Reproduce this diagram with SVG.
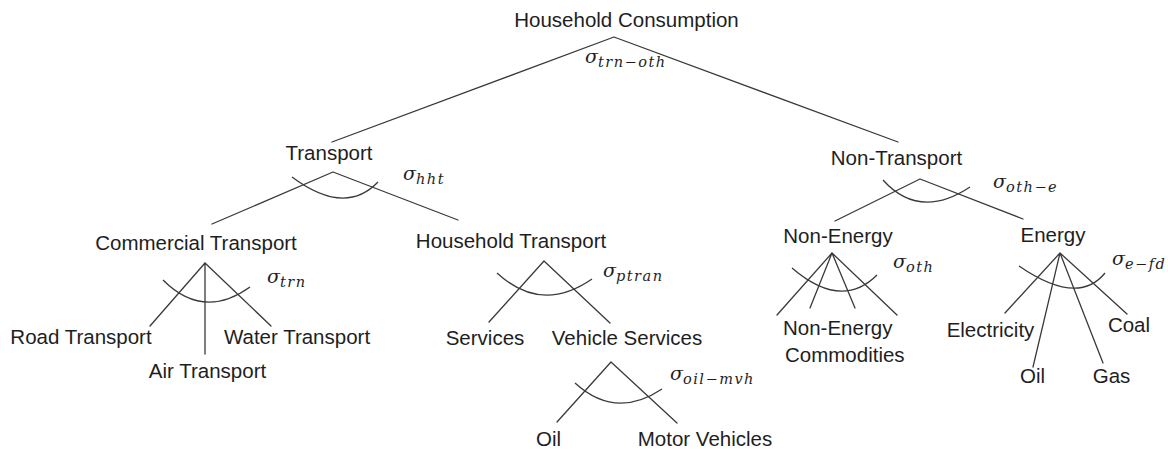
<svg xmlns="http://www.w3.org/2000/svg" width="1168" height="449" viewBox="0 0 1168 449">
  <style>
    .lbl { font-family: "Liberation Sans", Arial, sans-serif; font-size: 20.5px; fill: #1e1e1e; text-anchor: middle; }
    .lbl.start { text-anchor: start; }
    .sig { font-family: "DejaVu Serif", "Liberation Serif", serif; font-style: italic; font-size: 19px; fill: #1e1e1e; }
    .sub { font-size: 14.5px; letter-spacing: 1.5px; }
    .edge { stroke: #3a3a3a; stroke-width: 1.3; fill: none; stroke-linecap: round; }
    .arc { stroke: #3a3a3a; stroke-width: 1.3; fill: none; }
  </style>
  <rect width="1168" height="449" fill="#ffffff"/>

  <!-- branches and substitution arcs -->
  <g id="connectors">
    <!-- Household Consumption -->
    <path class="edge" d="M614 37 L332 142 M614 37 L898 142"/>
    <!-- Transport -->
    <path class="edge" d="M333 172 L212 224 M333 172 L458 220"/>
    <path class="arc" d="M292 177 Q345 216.5 378 182"/>
    <!-- Commercial Transport -->
    <path class="edge" d="M205 263 L150 326 M205 263 L205 354 M205 263 L271 326"/>
    <path class="arc" d="M163 280 Q203.5 320.5 250 287"/>
    <!-- Household Transport -->
    <path class="edge" d="M544 261 L489 322 M544 261 L610 323"/>
    <path class="arc" d="M497 273 Q541.5 314 592 279"/>
    <!-- Vehicle Services -->
    <path class="edge" d="M611 362 L557 422 M611 362 L677 423"/>
    <path class="arc" d="M575 383 Q615.5 420 662 389"/>
    <!-- Non-Transport -->
    <path class="edge" d="M920 179 L835 221 M920 179 L1023 219"/>
    <path class="arc" d="M883 180 Q919.5 220.5 970 187"/>
    <!-- Non-Energy -->
    <path class="edge" d="M832 253 L777 315 M832 253 L810 308 M832 253 L855 308 M832 253 L897 315"/>
    <path class="arc" d="M792 268 Q841.5 310.5 877 275"/>
    <!-- Energy -->
    <path class="edge" d="M1060 253 L1005 313 M1060 253 L1033 367 M1060 253 L1103 363 M1060 253 L1127 314"/>
    <path class="arc" d="M1019 266 Q1078 306.5 1105 273"/>
  </g>

  <!-- nodes -->
  <g id="household-consumption"><text class="lbl" x="626.5" y="27">Household Consumption</text></g>
  <g id="transport"><text class="lbl" x="329" y="160">Transport</text></g>
  <g id="non-transport"><text class="lbl" x="896.5" y="165">Non-Transport</text></g>
  <g id="commercial-transport"><text class="lbl" x="196" y="250">Commercial Transport</text></g>
  <g id="household-transport"><text class="lbl" x="511" y="248">Household Transport</text></g>
  <g id="road-transport"><text class="lbl" x="81" y="344">Road Transport</text></g>
  <g id="water-transport"><text class="lbl" x="297" y="344">Water Transport</text></g>
  <g id="air-transport"><text class="lbl" x="207.5" y="378">Air Transport</text></g>
  <g id="services"><text class="lbl" x="485" y="345">Services</text></g>
  <g id="vehicle-services"><text class="lbl" x="627" y="345">Vehicle Services</text></g>
  <g id="oil-vehicle"><text class="lbl" x="548.5" y="446">Oil</text></g>
  <g id="motor-vehicles"><text class="lbl" x="705" y="446">Motor Vehicles</text></g>
  <g id="non-energy"><text class="lbl" x="838" y="243">Non-Energy</text></g>
  <g id="energy"><text class="lbl" x="1053" y="242">Energy</text></g>
  <g id="non-energy-commodities">
    <text class="lbl start" x="783" y="335">Non-Energy</text>
    <text class="lbl start" x="785" y="362">Commodities</text>
  </g>
  <g id="electricity"><text class="lbl" x="990.5" y="337">Electricity</text></g>
  <g id="coal"><text class="lbl" x="1129" y="332">Coal</text></g>
  <g id="oil-energy"><text class="lbl" x="1032.5" y="383">Oil</text></g>
  <g id="gas"><text class="lbl" x="1111.5" y="383">Gas</text></g>

  <!-- elasticity labels -->
  <g id="elasticities">
    <text class="sig" x="585" y="63">σ<tspan class="sub" dy="4">trn−oth</tspan></text>
    <text class="sig" x="403" y="180">σ<tspan class="sub" dy="4">hht</tspan></text>
    <text class="sig" x="267" y="283">σ<tspan class="sub" dy="4">trn</tspan></text>
    <text class="sig" x="603" y="277">σ<tspan class="sub" dy="4">ptran</tspan></text>
    <text class="sig" x="670" y="380">σ<tspan class="sub" dy="4">oil−mvh</tspan></text>
    <text class="sig" x="993" y="188">σ<tspan class="sub" dy="4">oth−e</tspan></text>
    <text class="sig" x="893" y="268">σ<tspan class="sub" dy="4">oth</tspan></text>
    <text class="sig" x="1112" y="265">σ<tspan class="sub" dy="4">e−fd</tspan></text>
  </g>
</svg>
